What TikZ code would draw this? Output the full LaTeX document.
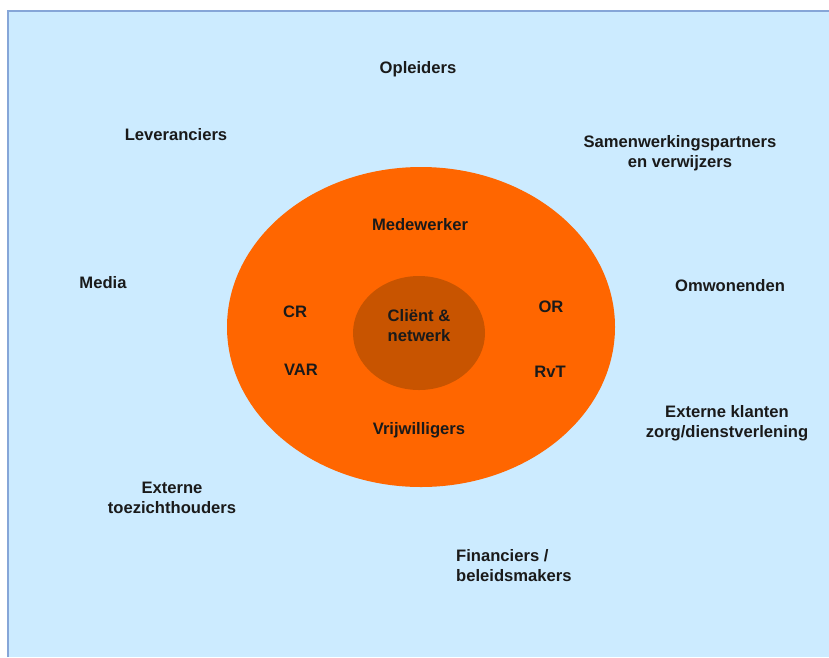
\documentclass[tikz,border=0pt]{standalone}
\usepackage{fontspec}
\setmainfont{Liberation Sans}
\definecolor{bgblue}{HTML}{CCEBFF}
\definecolor{edgeblue}{HTML}{86A6D8}
\definecolor{outerorange}{HTML}{FF6600}
\definecolor{innerorange}{HTML}{C85400}
\definecolor{txt}{HTML}{1A1A1A}
\tikzset{
  lbl/.style={text=txt, font=\bfseries\fontsize{16.6}{20}\selectfont, align=center, inner sep=0pt},
  lbll/.style={lbl, align=left},
}
\begin{document}
\begin{tikzpicture}[x=1pt,y=-1pt]
\useasboundingbox (0,0) rectangle (829,657);
\fill[white] (0,0) rectangle (829,657);
\fill[bgblue] (7,10) rectangle (829,657);
\draw[edgeblue, line width=2.2pt] (8,657) -- (8,11) -- (829,11);
% ellipses
\fill[outerorange] (421,327) ellipse [x radius=194, y radius=160];
\fill[innerorange] (419,333) ellipse [x radius=66, y radius=57];
% outer labels
\node[lbl] (opl) at (418,69) {Opleiders};
\node[lbl] (lev) at (176,135) {Leveranciers};
\node[lbl] (sam) at (680,153) {Samenwerkingspartners\\en verwijzers};
\node[lbl] (med) at (103,283) {Media};
\node[lbl] (omw) at (730,286) {Omwonenden};
\node[lbl] (ext) at (727,423) {Externe klanten\\zorg/dienstverlening};
\node[lbl] (toe) at (172,498) {Externe\\toezichthouders};
\node[lbll, anchor=west] (fin) at (456,566) {Financiers /\\beleidsmakers};
% inner labels
\node[lbl] (mw) at (420,225) {Medewerker};
\node[lbl] (cr) at (295,312) {CR};
\node[lbl] (var) at (301,370) {VAR};
\node[lbl] (or) at (551,307) {OR};
\node[lbl] (rvt) at (550,372) {RvT};
\node[lbl] (vrw) at (419,430) {Vrijwilligers};
\node[lbl] (cli) at (419,326) {Cliënt \&\\netwerk};
\end{tikzpicture}
\end{document}
